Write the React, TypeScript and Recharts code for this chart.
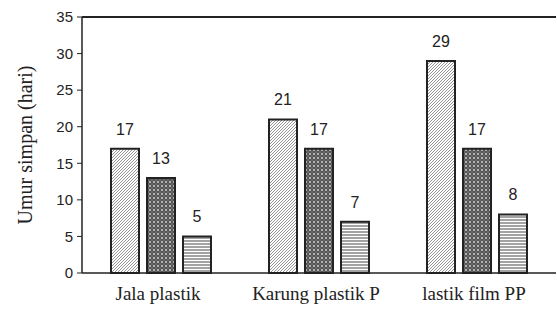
import { BarChart, Bar, XAxis, YAxis, LabelList, ReferenceLine } from 'recharts';

const categories = ['Jala plastik', 'Karung plastik P', 'lastik film PP'];
const seriesA = [17, 21, 29];
const seriesB = [13, 17, 17];
const seriesC = [5, 7, 8];
const yTicks = [0, 5, 10, 15, 20, 25, 30, 35];

const data = categories.map((name, i) => ({
    name,
    a: seriesA[i],
    b: seriesB[i],
    c: seriesC[i],
}));

const sans = '"Liberation Sans", Arial, sans-serif';
const serif = '"Liberation Serif", "Times New Roman", serif';
const labelStyle = { fontFamily: sans, fontSize: 16, fill: '#222' };

export default function App() {
    return (
        <div style={{ position: 'absolute', left: 0, top: 0, width: 557, height: 311, background: '#fff' }}>
            <BarChart
                width={557}
                height={311}
                data={data}
                margin={{ top: 17, right: 1, bottom: 0, left: 30 }}
                barCategoryGap={29}
                barGap={8}
            >
                <defs>
                    <pattern id="diag" width="3" height="3" patternUnits="userSpaceOnUse">
                        <rect width="3" height="3" fill="#fff" />
                        <path d="M-1,1 l2,-2 M0,3 l3,-3 M2,4 l2,-2" stroke="#777" strokeWidth="0.8" />
                    </pattern>
                    <pattern id="cross" width="4" height="4" patternUnits="userSpaceOnUse">
                        <rect width="4" height="4" fill="#555" />
                        <circle cx="2" cy="2" r="0.9" fill="#ddd" />
                        <circle cx="0" cy="0" r="0.6" fill="#aaa" />
                        <circle cx="4" cy="4" r="0.6" fill="#aaa" />
                        <circle cx="0" cy="4" r="0.6" fill="#aaa" />
                        <circle cx="4" cy="0" r="0.6" fill="#aaa" />
                    </pattern>
                    <pattern id="horiz" width="4" height="3" patternUnits="userSpaceOnUse">
                        <rect width="4" height="3" fill="#fff" />
                        <line x1="0" y1="1" x2="4" y2="1" stroke="#666" strokeWidth="1.2" />
                    </pattern>
                </defs>
                <XAxis
                    dataKey="name"
                    axisLine={{ stroke: '#222', strokeWidth: 1.5 }}
                    tickLine={false}
                    height={38}
                    tick={{ fontFamily: serif, fontSize: 19, fill: '#222' }}
                    dy={6}
                    dx={-3}
                />
                <YAxis
                    domain={[0, 35]}
                    ticks={yTicks}
                    width={52}
                    axisLine={{ stroke: '#222', strokeWidth: 1.5 }}
                    tickLine={{ stroke: '#222' }}
                    tickSize={5}
                    tickMargin={4}
                    tick={{ fontFamily: sans, fontSize: 15, fill: '#222' }}
                    label={{
                        value: 'Umur simpan (hari)',
                        angle: -90,
                        position: 'insideLeft',
                        offset: -5,
                        style: { fontFamily: serif, fontSize: 20, fill: '#222', textAnchor: 'middle' },
                    }}
                />
                <ReferenceLine y={35} stroke="#222" strokeWidth={2} />
                <Bar dataKey="a" fill="url(#diag)" stroke="#222" strokeWidth={2} isAnimationActive={false}>
                    <LabelList dataKey="a" position="top" offset={14} style={labelStyle} />
                </Bar>
                <Bar dataKey="b" fill="url(#cross)" stroke="#222" strokeWidth={2} isAnimationActive={false}>
                    <LabelList dataKey="b" position="top" offset={14} style={labelStyle} />
                </Bar>
                <Bar dataKey="c" fill="url(#horiz)" stroke="#222" strokeWidth={2} isAnimationActive={false}>
                    <LabelList dataKey="c" position="top" offset={14} style={labelStyle} />
                </Bar>
            </BarChart>
        </div>
    );
}
